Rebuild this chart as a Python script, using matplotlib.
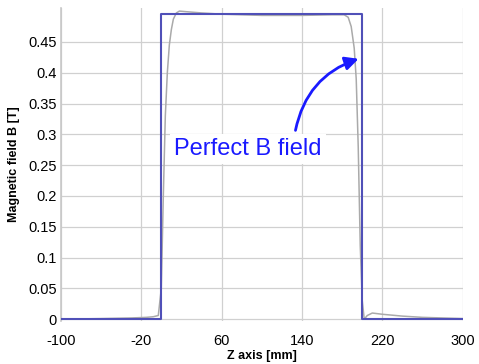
import matplotlib
matplotlib.use("Agg")
import matplotlib.pyplot as plt

plt.rcParams['font.family'] = ['Liberation Sans', 'DejaVu Sans']
plt.rcParams['axes.unicode_minus'] = False

# Perfect (ideal) field profile
perfect_z = [-100, 0, 0, 200, 200, 300]
perfect_B = [0.0, 0.0, 0.495, 0.495, 0.0, 0.0]

# Measured field profile
meas_z = [-100, -60, -30, -15, -8, -3, 0, 2, 4, 6, 8, 10, 12, 15, 18, 25,
          40, 60, 100, 140, 170, 182, 186, 189, 192, 194, 196, 198, 200,
          202, 205, 210, 220, 240, 260, 300]
meas_B = [0.0, 0.001, 0.002, 0.003, 0.004, 0.006, 0.05, 0.2, 0.33, 0.4, 0.445,
          0.47, 0.487, 0.497, 0.5, 0.499, 0.497, 0.495, 0.493, 0.493, 0.494,
          0.494, 0.49, 0.475, 0.44, 0.39, 0.28, 0.12, 0.03, 0.0, 0.006,
          0.01, 0.008, 0.005, 0.003, 0.001]

xticks = [-100, -20, 60, 140, 220, 300]
yticks = [0, 0.05, 0.1, 0.15, 0.2, 0.25, 0.3, 0.35, 0.4, 0.45]
ytick_labels = ['0', '0.05', '0.1', '0.15', '0.2', '0.25', '0.3', '0.35', '0.4', '0.45']

fig = plt.figure(figsize=(4.79, 3.64), dpi=100)
ax = fig.add_axes([0.127, 0.118, 0.839, 0.86])

ax.plot(meas_z, meas_B, color='#aaaaaa', lw=1.1, zorder=3)
ax.plot(perfect_z, perfect_B, color='#5050b8', lw=1.5, zorder=4)

ax.set_xlim(-100, 300)
ax.set_ylim(-0.003, 0.505)
ax.set_xticks(xticks)
ax.set_yticks(yticks)
ax.set_yticklabels(ytick_labels)
ax.tick_params(length=0, labelsize=10.5)
ax.tick_params(axis='x', pad=9)
ax.tick_params(axis='y', pad=3)
ax.grid(True, color='#d0d0d0', lw=0.9)
ax.set_axisbelow(True)
for s in ['top', 'right', 'bottom']:
    ax.spines[s].set_visible(False)
ax.spines['left'].set_color('#c8c8c8')
ax.spines['left'].set_linewidth(1.2)

ax.set_xlabel('Z axis [mm]', fontsize=9, fontweight='bold', labelpad=2)
ax.set_ylabel('Magnetic field B [T]', fontsize=9, fontweight='bold', labelpad=6)

ax.text(13, 0.276, 'Perfect B field', color='#1a1aff', fontsize=17,
        va='center', ha='left',
        bbox=dict(facecolor='white', edgecolor='none', pad=3), zorder=5)
ax.annotate('', xy=(199, 0.424), xytext=(133, 0.302),
            arrowprops=dict(arrowstyle='-|>', color='#1a1aff', lw=2,
                            mutation_scale=20,
                            connectionstyle='arc3,rad=-0.3'), zorder=6)

fig.savefig('out.png', dpi=100)
